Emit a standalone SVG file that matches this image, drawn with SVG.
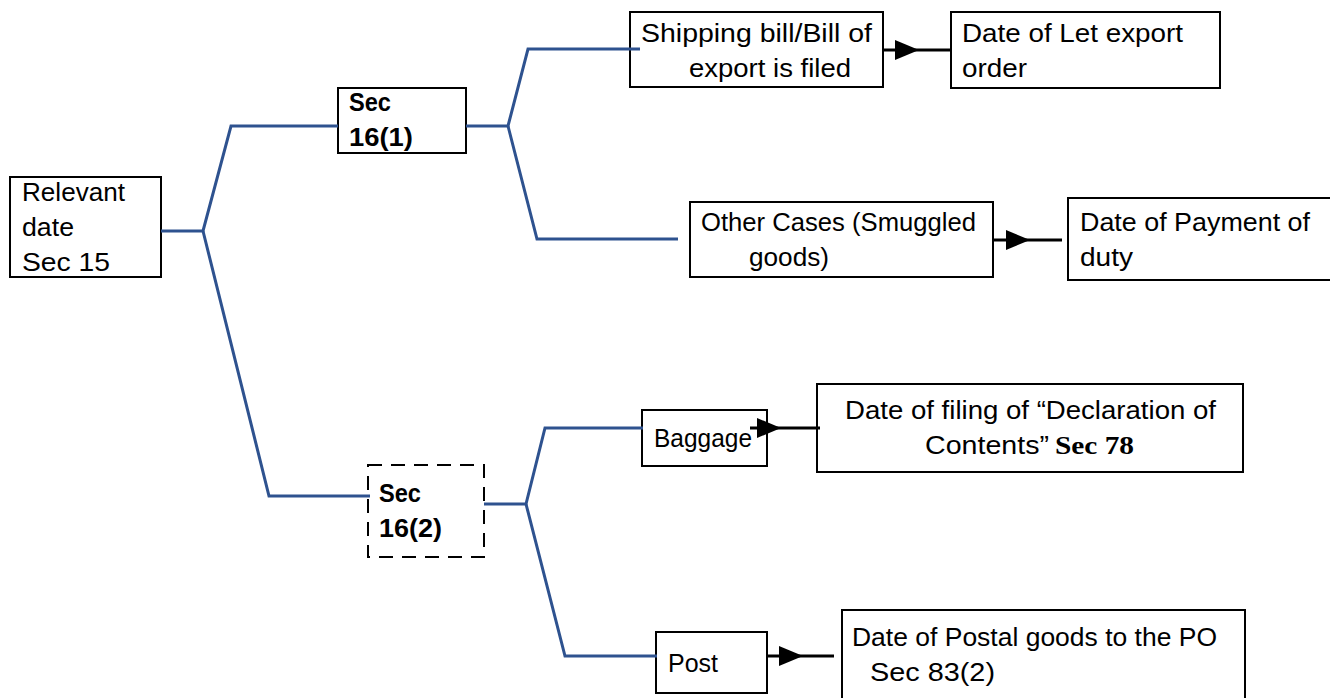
<svg xmlns="http://www.w3.org/2000/svg" width="1330" height="698" viewBox="0 0 1330 698">
<style>
.box{fill:#fff;stroke:#000;stroke-width:2}
.dash{fill:#fff;stroke:#000;stroke-width:2;stroke-dasharray:14 9}
.t{font-family:"Liberation Sans",Arial,sans-serif;font-size:25px;fill:#000}
.b{font-weight:bold}
.tree{fill:none;stroke:#2E528F;stroke-width:3}
.arr{fill:none;stroke:#000;stroke-width:3}
.ah{fill:#000}
.serif{font-family:"Liberation Serif","Times New Roman",serif;font-weight:bold;font-size:26px}
</style>
<g id="relevant">
<rect class="box" x="10" y="177" width="151" height="100"/>
<text class="t" x="22" y="201" textLength="103" lengthAdjust="spacingAndGlyphs">Relevant</text>
<text class="t" x="22" y="236" textLength="52" lengthAdjust="spacingAndGlyphs">date</text>
<text class="t" x="22" y="271" textLength="88" lengthAdjust="spacingAndGlyphs">Sec 15</text>
</g>
<g id="sec161">
<rect class="box" x="338" y="88" width="128" height="65"/>
<text class="t b" x="349" y="111" textLength="42" lengthAdjust="spacingAndGlyphs">Sec</text>
<text class="t b" x="349" y="146" textLength="64" lengthAdjust="spacingAndGlyphs">16(1)</text>
</g>
<g id="shipping">
<rect class="box" x="630" y="12" width="253" height="75"/>
<text class="t" x="641" y="42" textLength="231" lengthAdjust="spacingAndGlyphs">Shipping  bill/Bill  of</text>
<text class="t" x="689" y="77" textLength="162" lengthAdjust="spacingAndGlyphs">export is filed</text>
</g>
<g id="letexport">
<rect class="box" x="951" y="12" width="269" height="76"/>
<text class="t" x="962" y="42" textLength="221" lengthAdjust="spacingAndGlyphs">Date of  Let export</text>
<text class="t" x="962" y="77" textLength="65" lengthAdjust="spacingAndGlyphs">order</text>
</g>
<g id="othercases">
<rect class="box" x="690" y="202" width="303" height="75"/>
<text class="t" x="701" y="231" textLength="275" lengthAdjust="spacingAndGlyphs">Other Cases (Smuggled</text>
<text class="t" x="749" y="266" textLength="80" lengthAdjust="spacingAndGlyphs">goods)</text>
</g>
<g id="payment">
<rect class="box" x="1068" y="198" width="270" height="82"/>
<text class="t" x="1080" y="231" textLength="230" lengthAdjust="spacingAndGlyphs">Date of Payment of</text>
<text class="t" x="1080" y="266" textLength="53" lengthAdjust="spacingAndGlyphs">duty</text>
</g>
<g id="sec162">
<rect class="dash" x="368" y="465" width="116" height="92"/>
<text class="t b" x="379" y="502" textLength="42" lengthAdjust="spacingAndGlyphs">Sec</text>
<text class="t b" x="379" y="537" textLength="63" lengthAdjust="spacingAndGlyphs">16(2)</text>
</g>
<g id="baggage">
<rect class="box" x="642" y="410" width="125" height="56"/>
<text class="t" x="654" y="447" textLength="98" lengthAdjust="spacingAndGlyphs">Baggage</text>
</g>
<g id="declaration">
<rect class="box" x="817" y="384" width="426" height="88"/>
<text class="t" x="845" y="419" textLength="371" lengthAdjust="spacingAndGlyphs">Date of filing of “Declaration of</text>
<text class="t" x="925" y="454" textLength="124" lengthAdjust="spacingAndGlyphs">Contents”</text>
<text class="t serif" x="1055" y="454" textLength="79" lengthAdjust="spacingAndGlyphs">Sec 78</text>
</g>
<g id="post">
<rect class="box" x="656" y="632" width="111" height="61"/>
<text class="t" x="668" y="672" textLength="50" lengthAdjust="spacingAndGlyphs">Post</text>
</g>
<g id="postal">
<rect class="box" x="842" y="610" width="403" height="100"/>
<text class="t" x="852" y="646" textLength="365" lengthAdjust="spacingAndGlyphs">Date of Postal goods to the PO</text>
<text class="t" x="870" y="681" textLength="125" lengthAdjust="spacingAndGlyphs">Sec 83(2)</text>
</g>
<g id="connectors">
<polyline class="tree" points="161,231 203,231 231,126 338,126"/>
<polyline class="tree" points="203,231 269,496 370,496"/>
<polyline class="tree" points="466,126 508,126 528,49 640,49"/>
<polyline class="tree" points="508,126 537,239 678,239"/>
<polyline class="tree" points="484,504 526,504 545,428 643,428"/>
<polyline class="tree" points="526,504 565,656 657,656"/>
<line class="arr" x1="883" y1="50" x2="951" y2="50"/>
<polygon class="ah" points="895,40 919,50 895,60"/>
<line class="arr" x1="993" y1="240" x2="1062" y2="240"/>
<polygon class="ah" points="1006,230 1030,240 1006,250"/>
<line class="arr" x1="750" y1="428" x2="820" y2="428"/>
<polygon class="ah" points="757,418 781,428 757,438"/>
<line class="arr" x1="767" y1="656" x2="834" y2="656"/>
<polygon class="ah" points="779,646 803,656 779,666"/>
</g>
</svg>
